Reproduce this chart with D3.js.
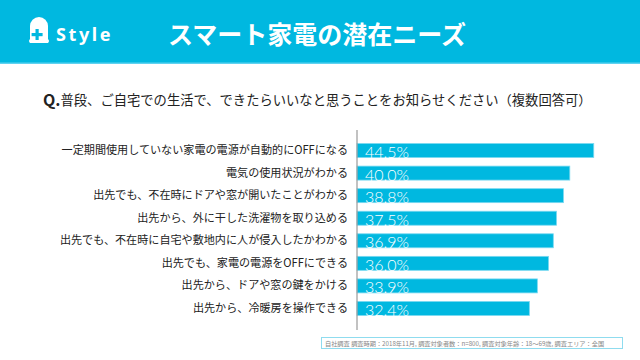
<!DOCTYPE html>
<html><head><meta charset="utf-8">
<script src="https://cdn.jsdelivr.net/npm/d3@7"></script>
<style>
html,body{margin:0;padding:0;background:#fff;}
svg{display:block;}
</style></head>
<body>
<script>
const categories = [
  "一定期間使用していない家電の電源が自動的にOFFになる",
  "電気の使用状況がわかる",
  "出先でも、不在時にドアや窓が開いたことがわかる",
  "出先から、外に干した洗濯物を取り込める",
  "出先でも、不在時に自宅や敷地内に人が侵入したかわかる",
  "出先でも、家電の電源をOFFにできる",
  "出先から、ドアや窓の鍵をかける",
  "出先から、冷暖房を操作できる"
];
const values = [44.5, 40.0, 38.8, 37.5, 36.9, 36.0, 33.9, 32.4];
const titleText = "スマート家電の潜在ニーズ";
const questionText = "普段、ご自宅での生活で、できたらいいなと思うことをお知らせください（複数回答可）";
const noteText = "自社調査  調査時期：2018年11月, 調査対象者数：n=800, 調査対象年齢：18～69歳, 調査エリア：全国";

const W = 640, H = 360;
const cyan = "#00b8e0";
const jp = "'Noto Sans CJK JP', 'Noto Sans', sans-serif";

const svg = d3.select("body").append("svg").attr("width", W).attr("height", H);

// Header band
svg.append("rect").attr("x",0).attr("y",0).attr("width",W).attr("height",64).attr("fill",cyan);
svg.append("rect").attr("x",0).attr("y",62.5).attr("width",W).attr("height",1.5).attr("fill","#5fd2f0");

// Logo
const logo = svg.append("g").attr("transform","translate(30,17)");
logo.append("path")
  .attr("d","M0,26 L0,9 A9,9 0 0 1 18,9 L18,26 Z")
  .attr("fill","#fff");
logo.append("rect").attr("x",-1).attr("y",22).attr("width",20).attr("height",4).attr("fill","#fff").attr("rx",2);
logo.append("rect").attr("x",5.5).attr("y",12).attr("width",3.2).attr("height",11).attr("fill",cyan);
logo.append("rect").attr("x",1.6).attr("y",16).attr("width",11).attr("height",3.2).attr("fill",cyan);
svg.append("text").attr("x",56).attr("y",41)
  .attr("font-family","'Noto Sans', 'DejaVu Sans', sans-serif").attr("font-weight","bold")
  .attr("font-size",18).attr("letter-spacing",2.6).attr("fill","#fff").text("Style");

// Title
svg.append("text").attr("x",168).attr("y",33).attr("dominant-baseline","central")
  .attr("font-family",jp).attr("font-weight","bold").attr("font-size",25)
  .attr("fill","#fff").text(titleText);

// Question
const q = svg.append("text").attr("x",43).attr("y",99).attr("dominant-baseline","central")
  .attr("font-family",jp).attr("fill","#222");
q.append("tspan").attr("font-weight","bold").attr("font-size",16).text("Q.");
q.append("tspan").attr("font-size",13.3).text(questionText);

// Chart
const x0 = 357;
const x = d3.scaleLinear().domain([0, 50]).range([x0, x0 + 266]);
const y = d3.scaleBand().domain(categories).range([130, 329]).paddingInner(0.38).paddingOuter(0.6);

svg.append("g").selectAll("rect").data(values).join("rect")
  .attr("x", x(0))
  .attr("y", (d,i) => y(categories[i]))
  .attr("width", d => x(d) - x(0))
  .attr("height", y.bandwidth())
  .attr("fill", cyan)
  .attr("stroke", "#7ad9f1").attr("stroke-width", 0.8);

const yAxis = d3.axisLeft(y).tickSize(0).tickPadding(9);
const ag = svg.append("g").attr("transform", `translate(${x0},0)`).call(yAxis);
ag.select(".domain").attr("stroke","#999").attr("stroke-width",1.2).attr("d","M0,130V330");
ag.selectAll("text").attr("font-family",jp).attr("font-size",11.1).attr("fill","#222");

svg.append("g").selectAll("text").data(values).join("text")
  .attr("x", x(0) + 8)
  .attr("y", (d,i) => y(categories[i]) + y.bandwidth()/2 + 1)
  .attr("dominant-baseline","central")
  .attr("font-family","Lato, 'Noto Sans', sans-serif").attr("font-weight",300)
  .attr("font-size",16).attr("fill","#fff")
  .text(d => d.toFixed(1) + "%");

// Footnote
svg.append("rect").attr("x",321.5).attr("y",337.5).attr("width",301).attr("height",11)
  .attr("fill","#fff").attr("stroke","#8fdcef").attr("stroke-width",1);
svg.append("text").attr("x",325).attr("y",343.2).attr("dominant-baseline","central")
  .attr("font-family",jp).attr("font-size",6.2).attr("fill","#888").text(noteText);
</script>
</body></html>
